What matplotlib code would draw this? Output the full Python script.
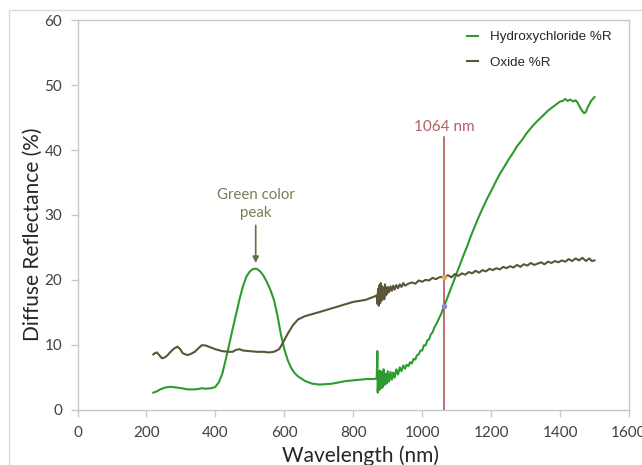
import matplotlib
matplotlib.use("Agg")
import matplotlib.pyplot as plt
from matplotlib.patches import Rectangle

# ---------------- data ----------------
hyd_wl = [220, 230, 240, 255, 270, 285, 300, 320, 340, 355, 360, 370, 390, 400,
          410, 420, 430, 440, 450, 460, 470, 480, 490, 500, 510, 520, 530, 540,
          550, 560, 570, 580, 590, 600, 610, 620, 630, 640, 660, 680, 700, 720,
          740, 760, 780, 800, 820, 840, 860, 868,
          870, 871, 873, 875, 877, 879, 882, 885, 888, 891, 894, 897, 900, 904,
          908, 912, 916, 920, 925, 930, 935, 940, 945, 950, 955, 960, 965, 970,
          975, 980, 985, 990, 995, 1000, 1005, 1010, 1015, 1020, 1025, 1030,
          1035, 1040, 1045, 1050, 1055, 1060, 1064, 1070, 1080, 1090, 1100, 1110,
          1120, 1130, 1140, 1150, 1160, 1175, 1190, 1200, 1215, 1225, 1240, 1250,
          1265, 1275, 1290, 1300, 1315, 1325, 1340, 1350, 1365, 1375, 1390, 1400,
          1408, 1415, 1422, 1430, 1438, 1445, 1450, 1455, 1460, 1465, 1470, 1475,
          1480, 1485, 1490, 1495, 1500]
hyd_r = [2.6, 2.8, 3.1, 3.4, 3.5, 3.4, 3.3, 3.1, 3.1, 3.2, 3.3, 3.2, 3.3, 3.5,
         4.2, 5.5, 7.7, 10.0, 12.4, 14.7, 17.0, 19.0, 20.5, 21.3, 21.7, 21.7, 21.3, 20.6,
         19.6, 18.4, 16.9, 14.5, 11.6, 9.3, 7.6, 6.4, 5.6, 5.1, 4.4, 4.0, 3.85, 3.9,
         4.0, 4.2, 4.4, 4.5, 4.6, 4.7, 4.7, 4.8,
         9.0, 2.6, 5.5, 3.0, 6.0, 3.2, 5.8, 3.4, 6.2, 3.8, 5.5, 4.0, 5.9, 4.3,
         5.8, 4.6, 5.7, 4.9, 6.2, 5.4, 6.5, 5.9, 6.8, 6.3, 6.9, 6.7, 7.3, 7.1,
         7.8, 7.7, 8.4, 8.5, 9.1, 9.1, 9.9, 9.9, 10.7, 10.8, 11.6, 11.9,
         12.6, 13.1, 13.6, 14.2, 14.7, 15.5, 16.0, 16.8, 18.2, 19.6, 21.0, 22.4,
         23.8, 25.1, 26.6, 27.9, 29.2, 31.0, 32.7, 33.7, 35.3, 36.3, 37.6, 38.5,
         39.7, 40.6, 41.6, 42.4, 43.4, 44.0, 44.8, 45.3, 46.1, 46.5, 47.1, 47.5,
         47.6, 47.9, 47.6, 47.8, 47.5, 47.7, 47.4, 46.9, 46.4, 46.0, 45.7, 45.9,
         46.6, 47.1, 47.6, 47.9, 48.2]

oxi_wl = [220, 225, 230, 237, 245, 252, 260, 270, 280, 290,
          298, 305, 313, 320, 330, 340, 350, 360, 370, 380,
          390, 400, 420, 440, 450, 460, 470, 480, 500, 520,
          540, 555, 570, 585, 595, 610, 625, 640, 660, 700,
          750, 800, 835, 860, 868,
          870, 872, 874, 876, 878, 880, 882, 884, 886, 888,
          890, 892, 894, 896, 898, 900, 904, 908, 912, 916,
          920, 925, 930, 935, 940, 945, 950, 960, 970, 980,
          990, 1000, 1010, 1020, 1030, 1040, 1050, 1064, 1075, 1085,
          1095, 1105, 1115, 1125, 1135, 1145, 1155, 1165, 1175, 1185,
          1195, 1205, 1215, 1225, 1235, 1245, 1255, 1265, 1275, 1285,
          1295, 1305, 1315, 1325, 1335, 1345, 1355, 1365, 1375, 1385,
          1395, 1405, 1415, 1425, 1435, 1445, 1455, 1465, 1475, 1485,
          1492, 1500]
oxi_r = [8.5, 8.7, 8.8, 8.4, 7.9, 8.0, 8.3, 8.9, 9.4, 9.7,
         9.3, 8.7, 8.5, 8.4, 8.6, 8.9, 9.4, 9.9, 9.9, 9.7,
         9.5, 9.3, 9.0, 8.9, 8.9, 9.2, 9.3, 9.1, 9.0, 8.9,
         8.9, 8.8, 8.9, 9.3, 10.2, 11.7, 13.0, 13.9, 14.4, 15.0,
         15.8, 16.6, 16.9, 17.4, 17.6,
         16.3, 18.6, 16.0, 19.2, 16.4, 19.5, 16.8, 19.0, 17.2, 18.7,
         17.0, 19.3, 17.6, 18.8, 17.8, 18.9, 18.1, 19.0, 18.3, 19.1,
         18.5, 19.2, 18.7, 19.3, 18.9, 19.5, 19.1, 19.4, 19.6, 19.4,
         19.9, 19.7, 20.0, 19.9, 20.3, 20.1, 20.4, 20.5, 20.7, 20.4,
         20.9, 20.6, 21.0, 20.8, 21.2, 21.0, 21.4, 21.1, 21.5, 21.3,
         21.7, 21.5, 21.8, 21.6, 22.0, 21.8, 22.1, 21.9, 22.3, 22.0,
         22.4, 22.2, 22.6, 22.3, 22.5, 22.7, 22.4, 22.8, 22.6, 22.9,
         22.7, 23.0, 22.8, 23.2, 22.9, 23.3, 23.0, 23.4, 22.9, 23.3,
         22.9, 23.0]

laser_nm = 1064
laser_oxi = 20.5
laser_hyd = 16.0

x_ticks = [0, 200, 400, 600, 800, 1000, 1200, 1400, 1600]
y_ticks = [0, 10, 20, 30, 40, 50, 60]

# ---------------- figure ----------------
W, H = 642, 465
fig = plt.figure(figsize=(W / 100, H / 100), dpi=100)
fig.patch.set_facecolor("white")

# outer chart border (left and top edges visible)
fig.patches.append(Rectangle((9 / W, -0.05), 1.0, 1 - 10 / H + 0.05,
                             transform=fig.transFigure, fill=False,
                             edgecolor="#D9D9D9", lw=1.0))

left, right, bottom, top = 77.5 / W, 629 / W, 1 - 409.5 / H, 1 - 20.5 / H
ax = fig.add_axes([left, bottom, right - left, top - bottom])

green = "#2E9B2E"
brown = "#5B5638"
ax.plot(hyd_wl, hyd_r, color=green, lw=1.5, label="Hydroxychloride %R", zorder=3)
ax.plot(oxi_wl, oxi_r, color=brown, lw=1.5, label="Oxide %R", zorder=3)

ax.plot([laser_nm, laser_nm], [0, 42], color="#B04550", lw=1.1, zorder=4)
ax.plot([laser_nm], [laser_oxi], "o", ms=4, color="#E0A868", mec="none", zorder=5)
ax.plot([laser_nm], [laser_hyd], "o", ms=4, color="#8C8CC8", mec="none", zorder=5)
ax.text(laser_nm, 43.6, "1064 nm", color="#B0606A", fontsize=11, family="Lato",
        ha="center", va="center")

ax.annotate("", xy=(517, 22.6), xytext=(517, 28.4),
            arrowprops=dict(arrowstyle="-|>", color="#6B6B48", lw=1.2,
                            mutation_scale=9, shrinkA=0, shrinkB=0))
ax.text(517, 31.7, "Green color\npeak", color="#7C7C58", fontsize=10.8,
        family="Lato", ha="center", va="center", linespacing=1.3)

ax.set_xlim(0, 1600)
ax.set_ylim(0, 60)
ax.set_xticks(x_ticks)
ax.set_yticks(y_ticks)
for s in ax.spines.values():
    s.set_color("#C8C8C8")
    s.set_linewidth(1.0)
ax.tick_params(axis="both", direction="out", length=5, width=1, color="#C8C8C8",
               labelcolor="#404040", labelsize=11)
ax.tick_params(axis="x", pad=7)
ax.tick_params(axis="y", pad=6)
for lab in ax.get_xticklabels() + ax.get_yticklabels():
    lab.set_family("Lato")

xl = ax.set_xlabel("Wavelength (nm)", fontsize=15, color="#262626", family="Lato")
yl = ax.set_ylabel("Diffuse Reflectance (%)", fontsize=15, color="#262626",
                   family="Lato")
xl.set_va("center")
yl.set_va("center")
ax.xaxis.set_label_coords((360 - 77.5) / (629 - 77.5), (409.5 - 456) / 389)
ax.yaxis.set_label_coords((33 - 77.5) / (629 - 77.5), (409.5 - 234) / 389)

leg = fig.legend(loc="upper left", bbox_to_anchor=(467 / W, 1 - 31 / H),
                 bbox_transform=fig.transFigure, frameon=False,
                 handlelength=0.85, handletextpad=0.85, labelspacing=1.0,
                 borderpad=0, borderaxespad=0,
                 prop={"family": "Liberation Sans", "size": 9.6})
for t in leg.get_texts():
    t.set_color("#262626")

fig.savefig("out.png", dpi=100)
